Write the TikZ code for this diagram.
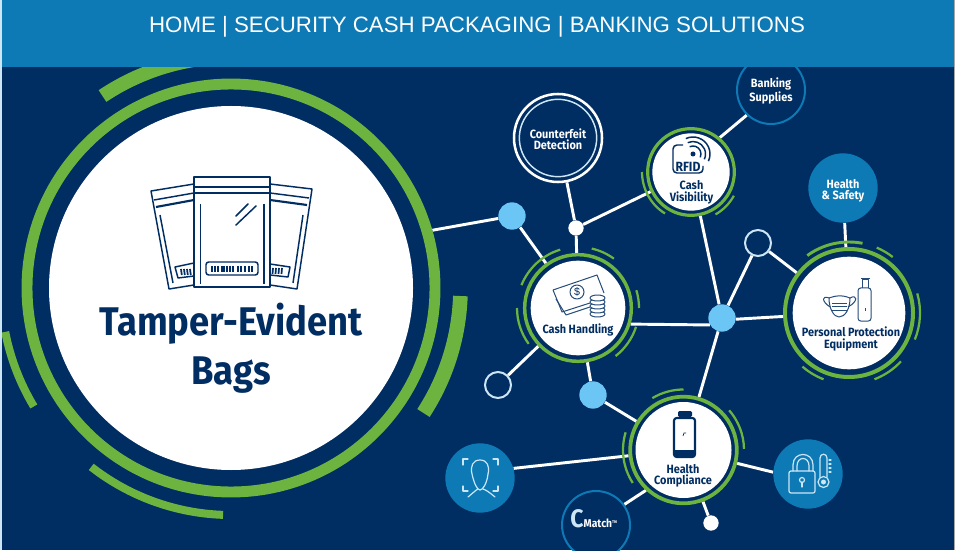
\documentclass[tikz,border=0pt]{standalone}
\usepackage{fontspec}
\setmainfont{Liberation Sans}
\newfontfamily\bagfont[FakeStretch=0.91]{Fira Sans}
\usetikzlibrary{positioning}
\pgfdeclarelayer{background}
\pgfsetlayers{background,main}
\definecolor{navy}{RGB}{0,45,98}
\definecolor{topblue}{RGB}{14,122,181}
\definecolor{leaf}{RGB}{108,179,63}
\definecolor{sky}{RGB}{108,198,245}
\definecolor{pale}{RGB}{205,230,245}
\tikzset{
  hubring/.style={circle, draw=leaf, fill=navy, inner sep=0pt},
  hubface/.style={circle, fill=white, inner sep=0pt},
  hubarc/.style={leaf, line width=1.7pt},
  link/.style={white, line width=2.2pt},
  hublabel/.style={navy, align=center, font=\bagfont\bfseries\fontsize{9}{8.4}\selectfont},
  darklabel/.style={white, align=center, font=\bagfont\bfseries\fontsize{9}{8.4}\selectfont},
  skydot/.style={circle, fill=sky, minimum size=20.5pt, inner sep=0pt},
  whitedot/.style={circle, fill=white, minimum size=11.5pt, inner sep=0pt},
  opendot/.style={circle, draw=pale, line width=1.5pt, minimum size=19.5pt, inner sep=0pt},
  bluedisc/.style={circle, fill=topblue, minimum size=52pt, inner sep=0pt},
  bluering/.style={circle, draw=topblue, fill=navy, line width=1.5pt, minimum size=51pt, inner sep=0pt},
  iconline/.style={navy, line width=1.1pt, line join=round},
  thinicon/.style={navy!85!white, line width=0.75pt, line join=round},
  paleicon/.style={pale, line width=0.9pt, line join=round, line cap=round}
}
\begin{document}
\begin{tikzpicture}[x=0.75pt,y=0.75pt]
\useasboundingbox (0,0) rectangle (955,550);
\clip (0,0) rectangle (955,550);

% big circle
\node[hubring, line width=8.2pt, minimum size=306pt] (bagring) at (231,262) {};
\node[hubface, minimum size=273pt] (bagface) at (231,262) {};
\draw[leaf, line width=10.5pt] (bagring.center) ++(123.8:231) arc[start angle=123.8, end angle=98, radius=231];
\draw[leaf, line width=11pt] (bagring.center) ++(-2:229.5) arc[start angle=-2, end angle=-33, radius=229.5];
\draw[leaf, line width=6pt] (bagring.center) ++(191:230) arc[start angle=191, end angle=211, radius=230];
\draw[leaf, line width=6pt] (bagring.center) ++(232:227) arc[start angle=232, end angle=268, radius=227];

% the small dots
\node[skydot] (skya) at (512,334) {};
\node[skydot] (skyb) at (593,155) {};
\node[skydot] (skyc) at (722,232) {};
\node[whitedot] (dota) at (576,322) {};
\node[whitedot] (dotb) at (711,27) {};
\node[opendot] (opena) at (758,307) {};
\node[opendot] (openb) at (498,165) {};

% outer discs
\node[circle, draw=white, fill=navy, line width=1.9pt, minimum size=66pt, inner sep=0pt] (counter) at (558,412) {};
\node[circle, draw=pale, line width=1.1pt, minimum size=58pt, inner sep=0pt] (counterin) at (558,412) {};
\node[darklabel] (counterlabel) at (558,411) {Counterfeit\\Detection};
\node[bluering] (banking) at (771,460) {};
\node[darklabel] (bankinglabel) at (771,459) {Banking\\Supplies};
\node[bluedisc] (safety) at (843,362) {};
\node[darklabel] (safetylabel) at (843,359) {Health\\\& Safety};
\node[bluedisc] (face) at (480,72) {};
\node[bluedisc] (lock) at (808,76) {};
\node[bluering] (cmatch) at (596,25) {};
\node[anchor=base, white, font=\bagfont\bfseries\fontsize{8.5}{8}\selectfont] (cmatchlabel) at (594,23) {{\color{pale}\fontsize{19}{19}\selectfont C}Match\textsuperscript{\fontsize{3}{3}\selectfont TM}};

% hubs
\node[hubring, line width=2.4pt, minimum size=65pt] (cashvis) at (691,378) {};
\node[hubface, minimum size=58pt] (cashvisface) at (691,378) {};
\node[hublabel, font=\bagfont\bfseries\fontsize{9}{9}\selectfont] (cashvislabel) at (691.5,358) {Cash\\Visibility};
\draw[hubarc] (cashvis.center) ++(180:49) arc[start angle=180, end angle=238, radius=49];
\draw[hubarc] (cashvis.center) ++(-60:49) arc[start angle=-60, end angle=-29, radius=49];

\node[hubring, line width=2.6pt, minimum size=80pt] (cash) at (578,242) {};
\node[hubface, minimum size=71pt] (cashface) at (578,242) {};
\node[hublabel] (cashlabel) at (578,220) {Cash Handling};
\draw[hubarc] (cash.center) ++(158:61) arc[start angle=158, end angle=107, radius=61];
\draw[hubarc] (cash.center) ++(77:61) arc[start angle=77, end angle=54, radius=61];
\draw[hubarc] (cash.center) ++(17:61) arc[start angle=17, end angle=0, radius=61];
\draw[hubarc] (cash.center) ++(-52:61) arc[start angle=-52, end angle=-18, radius=61];
\draw[hubarc] (cash.center) ++(180:61) arc[start angle=180, end angle=216, radius=61];

\node[hubring, line width=3pt, minimum size=96pt] (ppe) at (849,237) {};
\node[hubface, minimum size=84.5pt] (ppeface) at (849,237) {};
\node[hublabel] (ppelabel) at (851,211) {Personal Protection\\Equipment};
\draw[hubarc, line width=2.2pt] (ppe.center) ++(126:71) arc[start angle=126, end angle=79, radius=71];
\draw[hubarc] (ppe.center) ++(67:71) arc[start angle=67, end angle=52, radius=71];
\draw[hubarc] (ppe.center) ++(16:71) arc[start angle=16, end angle=-22, radius=71];
\draw[hubarc] (ppe.center) ++(-69:71) arc[start angle=-69, end angle=-43, radius=71];
\draw[hubarc] (ppe.center) ++(229:71) arc[start angle=229, end angle=249, radius=71];

\node[hubring, line width=2.8pt, minimum size=80pt] (health) at (683.5,100) {};
\node[hubface, minimum size=72pt] (healthface) at (683.5,100) {};
\node[hublabel] (healthlabel) at (683,74) {Health\\Compliance};
\draw[hubarc] (health.center) ++(121:60.5) arc[start angle=121, end angle=90, radius=60.5];
\draw[hubarc] (health.center) ++(41:60.5) arc[start angle=41, end angle=1, radius=60.5];
\draw[hubarc] (health.center) ++(163:60.5) arc[start angle=163, end angle=213, radius=60.5];

% bag title
\node[anchor=base, navy, font=\bagfont\bfseries\fontsize{30}{30}\selectfont] (bagtitle) at (231,215) {Tamper-Evident};
\node[anchor=base, navy, font=\bagfont\bfseries\fontsize{30}{30}\selectfont] (bagsub) at (231,166) {Bags};

% icons, in picture pixels
\begin{scope}[shift={(0,550)},yscale=-1]
% left bag
\draw[iconline] (194,184) -- (151,191) -- (169,289) -- (194,285);
\draw[iconline] (154,200) -- (194,193);
\draw[iconline, line width=1.6pt] (156,207) -- (194,200);
\draw[iconline] (160,215) -- (173,283);
\draw[iconline] (194,263) -- (175,267) -- (178,278) -- (194,276);
\foreach \x in {181,184,187,190} {\draw[navy, line width=1.3pt] (\x,269) -- (\x+0.8,275);}
% right bag
\draw[iconline] (270,184) -- (312,189) -- (297,289) -- (270,285);
\draw[iconline] (270,193) -- (309,198);
\draw[iconline, line width=1.6pt] (270,200) -- (307,205);
\draw[iconline] (303,215) -- (293,283);
\draw[iconline] (270,264) -- (290,267) -- (288,277) -- (270,275);
\foreach \x in {273,276,279,282} {\draw[navy, line width=1.3pt] (\x,268) -- (\x-0.5,274);}
% middle bag
\draw[iconline] (194,177) rectangle (270,287);
\draw[iconline] (194,187) -- (270,187);
\draw[iconline, line width=1.6pt] (194,193) -- (270,193);
\draw[iconline] (200.5,204) -- (200.5,284);
\draw[iconline] (264,204) -- (264,284);
\draw[iconline, rounded corners=2pt] (206,262) rectangle (258,275);
\foreach \x in {212,215,218,222,224,227,230,233,238,241,245,249,252} {\draw[navy, line width=1.2pt] (\x,266) -- (\x,272);}
\draw[iconline, line cap=round] (236,216) -- (248,204);
\draw[iconline, line cap=round] (236,225) -- (256,206);
% money
\draw[thinicon] (553,290) -- (597,275) -- (604,293);
\draw[thinicon] (553,290) -- (562,312) -- (590,303);
\draw[thinicon] (556,299) -- (566,315) -- (590,307);
\draw[thinicon, fill=white] (577,292) circle (7);
\node[navy, font=\fontsize{8}{8}\selectfont] (dollar) at (577,292) {\$};
\foreach \y in {314,310,306,302,298} {\draw[thinicon, fill=white] (597.5,\y) ellipse (7.5 and 3);}
% rfid card
\draw[iconline, rounded corners=3pt] (683,145) -- (673,145) -- (673,173) -- (703,173) -- (703,166);
\node[navy, font=\bagfont\bfseries\fontsize{10}{10}\selectfont] (rfid) at (688,167) {RFID};
\fill[navy] (693,154) circle (2.5);
% mask
\draw[thinicon] (829,298) .. controls (838,295) and (842,295) .. (850,298) .. controls (850,309) and (845,317) .. (839,317) .. controls (834,317) and (829,309) .. (829,298);
\draw[thinicon] (829,298) .. controls (822,295) and (821,301) .. (830,307);
\draw[thinicon] (850,298) .. controls (857,294) and (859,301) .. (848,307);
\foreach \y in {303,306.5,310} {\draw[thinicon] (832,\y) -- (847,\y);}
% bottle
\draw[thinicon, rounded corners=2pt] (858,288) -- (871,288) -- (871,321) -- (858,321) -- cycle;
\draw[thinicon] (862,288) -- (862,280) -- (868,280) -- (868,288);
\draw[thinicon] (861,279) -- (870,279);
\draw[thinicon] (865,308) -- (865,311);
% health meter
\draw[iconline, line width=1.6pt, rounded corners=2pt] (674,418) rectangle (695,457);
\fill[navy, rounded corners=1pt] (678,411) rectangle (692,417);
\fill[navy] (674,450) rectangle (695,457);
\draw[navy, line width=0.5pt] (683,436) -- (684,433) -- (686,433);
% face
\draw[paleicon] (480,460) .. controls (473,460) and (470,466) .. (472,474) .. controls (474,483) and (477,490) .. (480,490) .. controls (483,490) and (487,483) .. (488,474) .. controls (490,466) and (487,460) .. (480,460);
\draw[paleicon] (468,497) .. controls (474,492) and (476,490) .. (478,489);
\draw[paleicon] (495,497) .. controls (489,492) and (486,490) .. (483,489);
\draw[paleicon] (463,465) -- (463,459) -- (468,459);
\draw[paleicon] (493,459) -- (498,459) -- (498,465);
\draw[paleicon] (463,486) -- (463,491) -- (468,491);
\draw[paleicon] (493,491) -- (498,491) -- (498,486);
% lock
\draw[paleicon, rounded corners=1.5pt] (789,471) rectangle (815,493);
\draw[paleicon] (793,471) -- (793,465) .. controls (793,451) and (813,451) .. (813,465) -- (813,471);
\draw[paleicon] (797,471) -- (797,466) .. controls (797,456) and (809,456) .. (809,466) -- (809,471);
\draw[paleicon] (802,480) circle (2.5);
\draw[paleicon] (802,482) -- (802,487);
% thermometer
\draw[paleicon] (820,477) -- (820,458) .. controls (820,453) and (827,453) .. (827,458) -- (827,477);
\draw[paleicon] (823.5,482) circle (5.5);
\fill[pale] (823.5,482) circle (2.5);
\foreach \y in {460,464,468,472} {\draw[paleicon] (829,\y) -- (831,\y);}
\end{scope}

% rfid waves
\draw[iconline] (693,396) ++(115:8) arc[start angle=115, end angle=-25, radius=8];
\draw[iconline] (693,396) ++(115:12.5) arc[start angle=115, end angle=-25, radius=12.5];
\draw[iconline] (693,396) ++(115:17) arc[start angle=115, end angle=-25, radius=17];

% header and the edges of the picture
\fill[topblue] (0,483) rectangle (955,550);
\node[white, font=\fontsize{16.7}{17}\selectfont] (toptitle) at (477,523) {HOME | SECURITY CASH PACKAGING | BANKING SOLUTIONS};
\fill[pale] (0,0) rectangle (1.5,550);
\fill[gray!70] (953.5,0) rectangle (955,550);

\begin{pgfonlayer}{background}
  \fill[navy] (0,0) rectangle (955,550);
  \draw[link] (bagring.16) -- (skya);
  \draw[link] (skya) -- (cash);
  \draw[link] (dota) -- (cash);
  \draw[link] (dota) -- (counter);
  \draw[link] (dota) -- (cashvis);
  \draw[link] (cashvis.50) -- (banking.226);
  \draw[link] (cashvis) -- (skyc);
  \draw[link] (skyc) -- (opena);
  \draw[link] (opena) -- (ppe);
  \draw[link] (safety) -- (ppe);
  \draw[link] (cash.-17) -- (skyc.-150);
  \draw[link] (skyc.-5) -- (ppe.183);
  \draw[link] (skyc) -- (health);
  \draw[link] (cash) -- (openb);
  \draw[link] (cash) -- (skyb);
  \draw[link] (skyb) -- (health);
  \draw[link] (face.16) -- (health.186);
  \draw[link] (health.-14) -- (lock.177);
  \draw[link] (health.227) -- (cmatch.36);
  \draw[link] (health) -- (dotb);
\end{pgfonlayer}
\end{tikzpicture}
\end{document}
